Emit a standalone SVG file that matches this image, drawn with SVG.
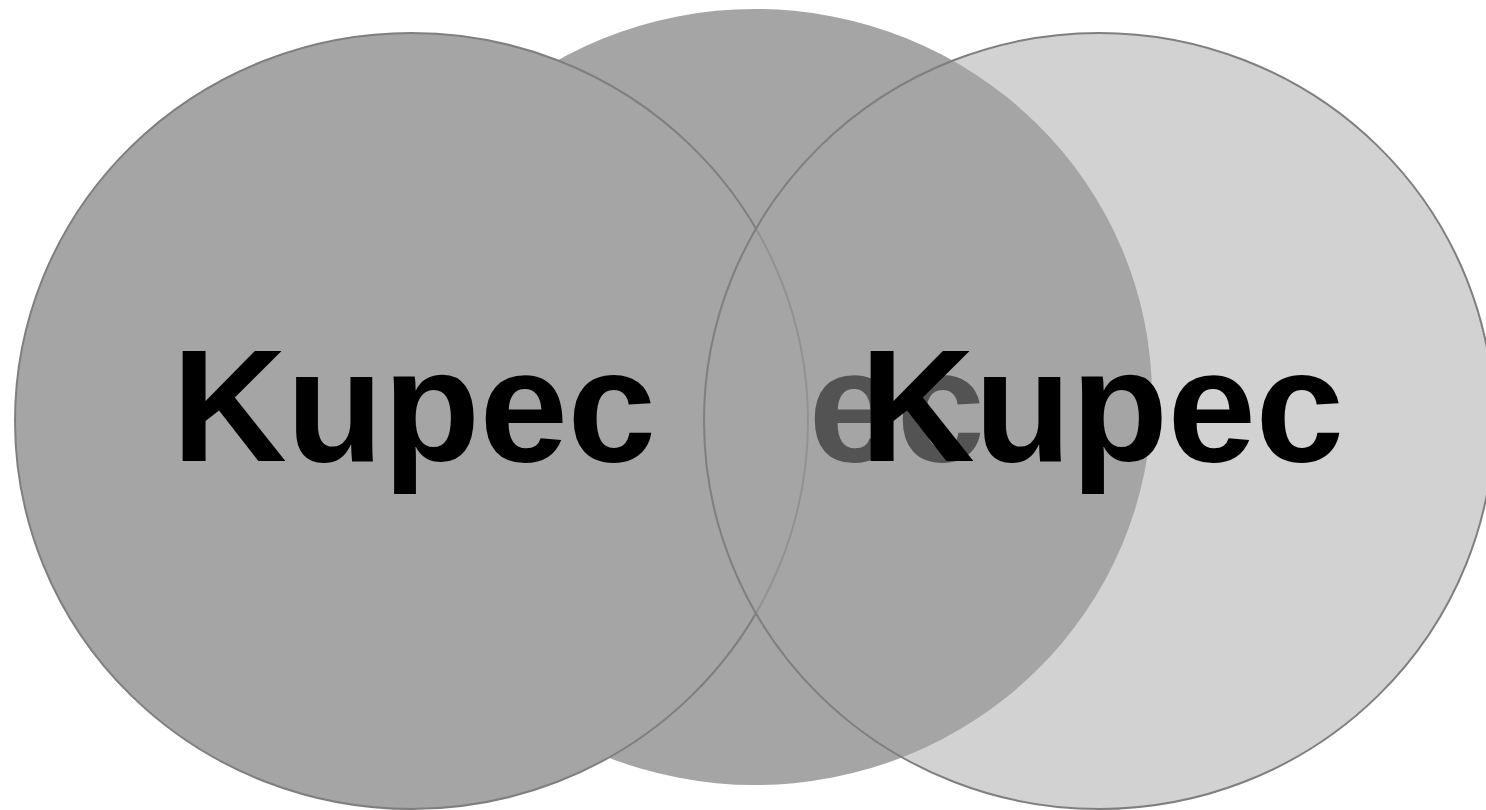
<svg xmlns="http://www.w3.org/2000/svg" width="1486" height="810" viewBox="0 0 1486 810">
<style>
.lbl{font-family:"Liberation Sans",Arial,sans-serif;font-weight:bold;font-size:159px;fill:#000;text-anchor:middle}
.c{fill:#a5a5a5;stroke:#7f7f7f;stroke-width:2}
</style>
<rect width="1486" height="810" fill="#fff"/>
<g id="node-middle">
<ellipse cx="755" cy="397" rx="397" ry="388" fill="#a5a5a5"/>
<text class="lbl" x="743" y="461" textLength="484" lengthAdjust="spacing">Kupec</text>
</g>
<g id="node-left">
<ellipse class="c" cx="411.5" cy="421" rx="396.5" ry="388"/>
<text class="lbl" x="414" y="461" textLength="484" lengthAdjust="spacing">Kupec</text>
</g>
<g id="node-right">
<ellipse class="c" cx="1099" cy="421" rx="395" ry="388" fill-opacity="0.5"/>
<text class="lbl" x="1102" y="461" textLength="484" lengthAdjust="spacing">Kupec</text>
</g>
<g id="connectors"/>
</svg>
